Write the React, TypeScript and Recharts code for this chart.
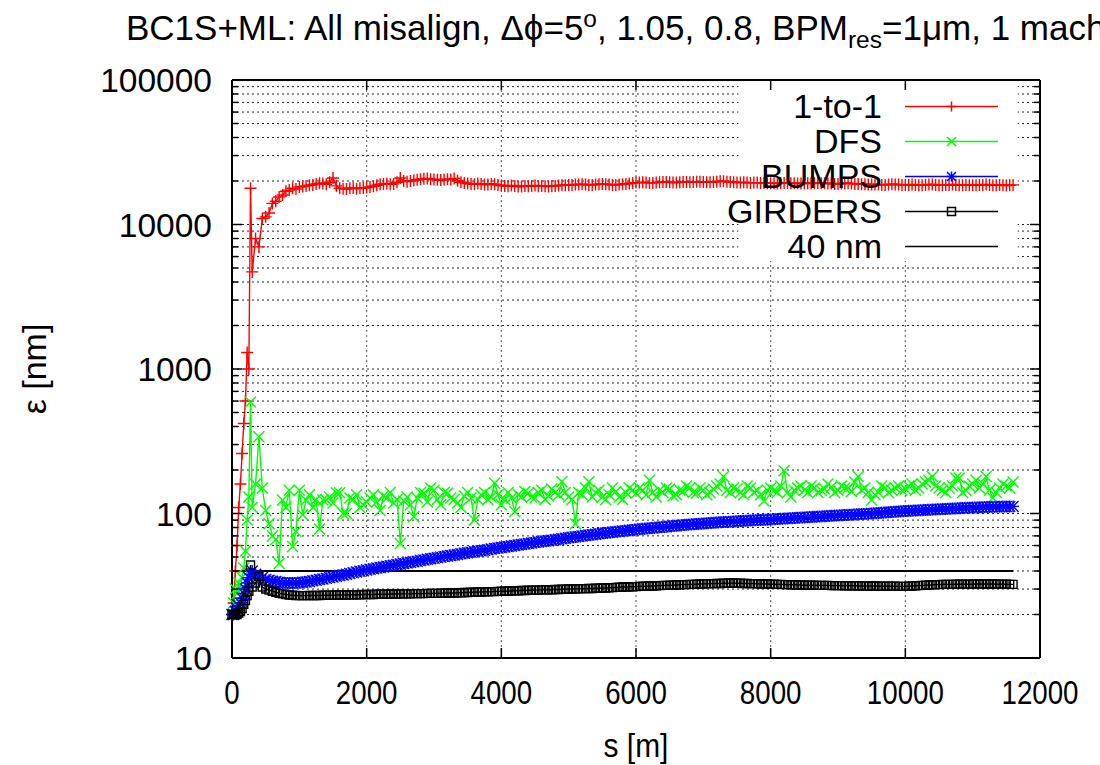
import React from 'react'
import { LineChart, Line, XAxis, YAxis, CartesianGrid, ReferenceArea, Legend } from 'recharts'

// beam position along the linac [m]
const sPos = [
  0, 25, 50, 75, 100, 125, 150, 175, 200, 225, 250, 275, 300, 350, 400, 450, 500, 550, 600, 650, 700, 750, 800, 850, 900, 950, 1000,
  1050, 1100, 1150, 1200, 1250, 1300, 1350, 1400, 1450, 1500, 1550, 1600, 1650, 1700, 1750, 1800, 1850, 1900, 1950, 2000,
  2050, 2100, 2150, 2200, 2250, 2300, 2350, 2400, 2450, 2500, 2550, 2600, 2650, 2700, 2750, 2800, 2850, 2900, 2950, 3000,
  3050, 3100, 3150, 3200, 3250, 3300, 3350, 3400, 3450, 3500, 3550, 3600, 3650, 3700, 3750, 3800, 3850, 3900, 3950, 4000,
  4050, 4100, 4150, 4200, 4250, 4300, 4350, 4400, 4450, 4500, 4550, 4600, 4650, 4700, 4750, 4800, 4850, 4900, 4950, 5000,
  5050, 5100, 5150, 5200, 5250, 5300, 5350, 5400, 5450, 5500, 5550, 5600, 5650, 5700, 5750, 5800, 5850, 5900, 5950, 6000,
  6050, 6100, 6150, 6200, 6250, 6300, 6350, 6400, 6450, 6500, 6550, 6600, 6650, 6700, 6750, 6800, 6850, 6900, 6950, 7000,
  7050, 7100, 7150, 7200, 7250, 7300, 7350, 7400, 7450, 7500, 7550, 7600, 7650, 7700, 7750, 7800, 7850, 7900, 7950, 8000,
  8050, 8100, 8150, 8200, 8250, 8300, 8350, 8400, 8450, 8500, 8550, 8600, 8650, 8700, 8750, 8800, 8850, 8900, 8950, 9000,
  9050, 9100, 9150, 9200, 9250, 9300, 9350, 9400, 9450, 9500, 9550, 9600, 9650, 9700, 9750, 9800, 9850, 9900, 9950, 10000,
  10050, 10100, 10150, 10200, 10250, 10300, 10350, 10400, 10450, 10500, 10550, 10600, 10650, 10700, 10750, 10800, 10850, 10900, 10950, 11000,
  11050, 11100, 11150, 11200, 11250, 11300, 11350, 11400, 11450, 11500, 11550, 11600,
]

// emittance [nm]
const oneToOne = [
  20, 24, 40, 60, 110, 160, 260, 420, 600, 1300, 1000, 17800, 4700, 8000, 7000, 11000, 11300, 12000, 14000, 14500, 15500, 16000, 17000, 17300, 17800, 17600, 18200,
  18300, 18500, 18700, 18800, 19100, 19300, 19200, 19000, 19600, 21000, 18500, 17800, 17700, 17600, 17800, 17900, 17700, 17800, 17900, 18000,
  18200, 18400, 18700, 19000, 19100, 19200, 19000, 19100, 19600, 21000, 20000, 19800, 20000, 20200, 20400, 20600, 20700, 20800, 20600, 20500,
  20400, 20300, 20500, 20600, 20500, 20800, 20100, 19600, 19400, 19200, 19100, 19000, 19200, 19100, 18900, 18900, 19100, 19000, 18800, 18600,
  18500, 18400, 18600, 18500, 18300, 18300, 18500, 18400, 18500, 18600, 18400, 18500, 18400, 18300, 18500, 18500, 18600, 18700, 18700, 18800,
  18800, 18900, 18900, 19000, 18900, 18800, 18800, 18900, 19000, 19100, 19000, 18900, 18800, 18800, 18900, 19000, 19100, 19200, 19400, 19500,
  19500, 19600, 19500, 19400, 19400, 19500, 19600, 19700, 19700, 19600, 19500, 19500, 19600, 19700, 19700, 19600, 19700, 19800, 19800, 19700,
  19600, 19600, 19700, 19800, 19900, 19900, 19800, 19700, 19600, 19500, 19500, 19600, 19500, 19400, 19500, 19500, 19400, 19400, 19300, 19300,
  19300, 19200, 19300, 19400, 19400, 19300, 19300, 19200, 19200, 19300, 19300, 19200, 19300, 19400, 19300, 19300, 19200, 19200, 19100, 19100,
  19200, 19300, 19300, 19200, 19100, 19100, 19000, 19000, 18900, 18900, 18900, 18900, 18800, 18800, 18900, 19000, 18900, 18900, 18800, 18800,
  18800, 18900, 18800, 18700, 18700, 18800, 18900, 18900, 18800, 18700, 18700, 18800, 18800, 18900, 18800, 18700, 18700, 18800, 18700, 18700,
  18700, 18800, 18800, 18900, 18800, 18700, 18700, 18800, 18700, 18600, 18700, 18800,
]

const dfs = [
  20, 24, 30, 28, 33, 30, 36, 42, 55, 90, 130, 590, 110, 160, 340, 150, 105, 85, 70, 66, 45, 124, 110, 145, 59, 75, 145,
  98, 124, 135, 110, 125, 78, 124, 124, 130, 118, 139, 139, 100, 100, 128, 125, 135, 110, 115, 120,
  128, 135, 120, 105, 132, 128, 140, 118, 125, 62, 122, 130, 115, 95, 128, 140, 138, 120, 150, 145,
  125, 115, 140, 138, 128, 125, 118, 110, 132, 140, 128, 90, 125, 135, 140, 125, 130, 162, 135, 115,
  125, 140, 128, 103, 135, 130, 142, 138, 130, 128, 140, 145, 125, 132, 148, 140, 135, 166, 140, 130,
  125, 85, 140, 135, 150, 166, 130, 140, 145, 130, 125, 135, 150, 142, 130, 125, 140, 150, 145, 138,
  150, 145, 135, 170, 140, 130, 145, 140, 150, 148, 132, 135, 145, 142, 155, 150, 140, 138, 150, 145,
  135, 140, 148, 155, 160, 180, 145, 140, 150, 148, 140, 135, 155, 150, 140, 145, 135, 122, 145, 150,
  145, 140, 155, 198, 140, 130, 145, 150, 155, 145, 140, 155, 150, 140, 145, 148, 160, 152, 140, 145,
  155, 150, 150, 142, 165, 180, 145, 150, 140, 124, 135, 140, 155, 150, 140, 145, 150, 155, 145, 148,
  155, 160, 145, 150, 160, 165, 170, 180, 155, 150, 145, 140, 150, 155, 176, 176, 140, 145, 155, 160,
  170, 150, 160, 180, 145, 128, 140, 150, 160, 155, 150, 165,
]

const bumps = [
  20, 20, 21, 22, 23, 24, 26, 28, 30, 33, 36, 38, 40, 38, 37, 36, 35, 34.5, 34, 33.8, 33.5, 33.2, 33, 33, 33, 33.1, 33.2,
  33.4, 33.6, 33.9, 34.2, 34.5, 34.9, 35.2, 35.6, 36.0, 36.4, 36.8, 37.2, 37.6, 38.0, 38.4, 38.9, 39.3, 39.8, 40.2, 40.7,
  41.1, 41.5, 41.9, 42.3, 42.7, 43.1, 43.5, 43.9, 44.3, 44.7, 45.1, 45.5, 46.0, 46.4, 46.8, 47.3, 47.7, 48.2, 48.6, 49.0,
  49.5, 49.9, 50.3, 50.8, 51.2, 51.7, 52.1, 52.6, 53.0, 53.5, 53.9, 54.4, 54.8, 55.3, 55.7, 56.2, 56.7, 57.2, 57.7, 58.2,
  58.6, 59.1, 59.5, 60.0, 60.5, 61.0, 61.5, 62.0, 62.5, 63.0, 63.4, 63.9, 64.4, 64.9, 65.4, 65.9, 66.4, 66.9, 67.4, 67.9,
  68.4, 68.9, 69.4, 69.9, 70.4, 70.9, 71.4, 71.9, 72.4, 72.9, 73.3, 73.8, 74.2, 74.7, 75.1, 75.6, 76.0, 76.5, 76.9, 77.4,
  77.8, 78.3, 78.7, 79.1, 79.5, 79.9, 80.3, 80.7, 81.1, 81.5, 81.9, 82.3, 82.7, 83.1, 83.5, 83.9, 84.3, 84.7, 85.0, 85.4,
  85.7, 86.0, 86.3, 86.6, 86.9, 87.2, 87.5, 87.8, 88.1, 88.4, 88.7, 89.0, 89.2, 89.5, 89.7, 90.0, 90.2, 90.5, 90.7, 91.0,
  91.3, 91.6, 91.9, 92.2, 92.5, 92.8, 93.1, 93.4, 93.7, 94.0, 94.3, 94.6, 94.9, 95.2, 95.5, 95.8, 96.1, 96.4, 96.7, 97.0,
  97.3, 97.6, 97.9, 98.2, 98.5, 98.8, 99.1, 99.4, 99.7, 100.0, 100.4, 100.8, 101.2, 101.6, 102.0, 102.4, 102.8, 103.2, 103.6, 104.0,
  104.3, 104.6, 104.9, 105.2, 105.5, 105.8, 106.1, 106.4, 106.7, 107.0, 107.3, 107.6, 107.9, 108.2, 108.5, 108.8, 109.1, 109.4, 109.7, 110.0,
  110.2, 110.4, 110.6, 110.8, 111.0, 111.2, 111.3, 111.5, 111.6, 111.8, 111.9, 112.0,
]

const girders = [
  20, 20, 20, 20, 20.5, 21, 22, 23.5, 25, 27, 29, 44, 31, 33, 36.6, 31, 30, 29.5, 29, 28.5, 28, 27.8, 27.5, 27.3, 27.2, 27.1, 27,
  27.0, 27.0, 27.1, 27.1, 27.1, 27.1, 27.2, 27.2, 27.2, 27.2, 27.3, 27.3, 27.3, 27.3, 27.4, 27.4, 27.4, 27.4, 27.5, 27.5,
  27.5, 27.5, 27.6, 27.6, 27.6, 27.6, 27.7, 27.7, 27.7, 27.8, 27.8, 27.8, 27.8, 27.9, 27.9, 27.9, 27.9, 28.0, 28.0, 28.0,
  28.0, 28.1, 28.1, 28.2, 28.2, 28.2, 28.3, 28.3, 28.4, 28.4, 28.5, 28.5, 28.6, 28.6, 28.7, 28.7, 28.8, 28.8, 28.9, 29.0,
  29.0, 29.1, 29.1, 29.2, 29.2, 29.3, 29.3, 29.4, 29.4, 29.5, 29.5, 29.6, 29.6, 29.7, 29.7, 29.8, 29.8, 29.9, 29.9, 30.0,
  30.0, 30.1, 30.1, 30.2, 30.2, 30.3, 30.3, 30.4, 30.4, 30.5, 30.5, 30.6, 30.7, 30.8, 30.9, 31.0, 31.0, 31.1, 31.1, 31.2,
  31.3, 31.4, 31.4, 31.5, 31.5, 31.6, 31.7, 31.8, 31.8, 31.9, 31.9, 32.0, 32.1, 32.2, 32.2, 32.3, 32.3, 32.4, 32.5, 32.6,
  32.6, 32.7, 32.7, 32.8, 32.8, 32.9, 32.9, 33.0, 33.0, 32.9, 32.9, 32.8, 32.8, 32.7, 32.7, 32.6, 32.6, 32.5, 32.5, 32.4,
  32.4, 32.3, 32.3, 32.2, 32.2, 32.1, 32.1, 32.0, 32.0, 31.9, 31.9, 31.9, 31.9, 31.8, 31.8, 31.8, 31.8, 31.7, 31.7, 31.7,
  31.7, 31.6, 31.6, 31.6, 31.6, 31.5, 31.5, 31.5, 31.5, 31.5, 31.5, 31.4, 31.4, 31.4, 31.4, 31.4, 31.4, 31.3, 31.3, 31.3,
  31.4, 31.5, 31.6, 31.7, 31.8, 31.9, 32.0, 32.1, 32.2, 32.2, 32.3, 32.3, 32.3, 32.3, 32.4, 32.4, 32.4, 32.4, 32.4, 32.4,
  32.5, 32.5, 32.5, 32.5, 32.5, 32.5, 32.4, 32.4, 32.4, 32.4, 32.3, 32.3,
]

// 40 nm reference level
const limitS = [0, 11600]
const limitNm = [40, 40]

const xTicks = [0, 2000, 4000, 6000, 8000, 10000, 12000]
const yTicks = [
  10, 20, 30, 40, 50, 60, 70, 80, 90,
  100, 200, 300, 400, 500, 600, 700, 800, 900,
  1000, 2000, 3000, 4000, 5000, 6000, 7000, 8000, 9000,
  10000, 20000, 30000, 40000, 50000, 60000, 70000, 80000, 90000,
  100000,
]
const yLabels = [10, 100, 1000, 10000, 100000]

const rows = sPos.map((s, i) => ({ s, oneToOne: oneToOne[i], dfs: dfs[i], bumps: bumps[i], girders: girders[i] }))
const limitRows = limitS.map((s, i) => ({ s, nm40: limitNm[i] }))

const FONT = '"Liberation Sans", Arial, Helvetica, sans-serif'

type Mark = 'plus' | 'cross' | 'star' | 'square' | 'none'

const series: { key: string; name: string; color: string; mark: Mark }[] = [
  { key: 'oneToOne', name: '1-to-1', color: '#ff0000', mark: 'plus' },
  { key: 'dfs', name: 'DFS', color: '#00ff00', mark: 'cross' },
  { key: 'bumps', name: 'BUMPS', color: '#0000ff', mark: 'star' },
  { key: 'girders', name: 'GIRDERS', color: '#000000', mark: 'square' },
]

function markPath(mark: Mark, cx: number, cy: number, big = true) {
  const h = big ? 6 : 5
  const c = big ? 5.5 : 4.5
  const plus = `M${cx - h},${cy}H${cx + h}M${cx},${cy - h}V${cy + h}`
  const cross = `M${cx - c},${cy - c}L${cx + c},${cy + c}M${cx - c},${cy + c}L${cx + c},${cy - c}`
  if (mark === 'plus') return plus
  if (mark === 'cross') return cross
  if (mark === 'star') return plus + cross
  if (mark === 'square') return `M${cx - 4},${cy - 4}h8v8h-8z`
  return ''
}

const dotFor = (mark: Mark, color: string) => (p: any) => {
  const { cx, cy, index } = p
  if (cx == null || cy == null) return <g key={`d${index}`} />
  return <path key={`d${index}`} d={markPath(mark, cx, cy)} stroke={color} strokeWidth={1.4} fill="none" />
}

function BottomTick({ x, y, payload }: any) {
  return (
    <g>
      <line x1={x} y1={y} x2={x} y2={y - 10} stroke="#000" strokeWidth={1.5} />
      <text transform={`translate(${x},${y + 46}) scale(0.84,1)`} textAnchor="middle" fontSize={33} fontFamily={FONT} fill="#000">
        {payload.value}
      </text>
    </g>
  )
}

function TopTick({ x, y }: any) {
  return <line x1={x} y1={y} x2={x} y2={y + 10} stroke="#000" strokeWidth={1.5} />
}

function LeftTick({ x, y, payload }: any) {
  const major = yLabels.includes(payload.value)
  return (
    <g>
      <line x1={x} y1={y} x2={x + (major ? 10 : 6)} y2={y} stroke="#000" strokeWidth={1.5} />
      {major && (
        <text x={x - 20} y={y} dy="0.36em" textAnchor="end" fontSize={33.5} fontFamily={FONT} fill="#000">
          {payload.value}
        </text>
      )}
    </g>
  )
}

function RightTick({ x, y, payload }: any) {
  const major = yLabels.includes(payload.value)
  return <line x1={x} y1={y} x2={x - (major ? 10 : 6)} y2={y} stroke="#000" strokeWidth={1.5} />
}

function KeyBox() {
  return (
    <div style={{ fontFamily: FONT, fontSize: 34, color: '#000' }}>
      {[...series, { key: 'nm40', name: '40 nm', color: '#000000', mark: 'none' as Mark }].map((s) => (
        <div key={s.key} style={{ height: 35, display: 'flex', alignItems: 'center' }}>
          <span style={{ width: 182, textAlign: 'right', lineHeight: '35px', whiteSpace: 'nowrap' }}>{s.name}</span>
          <svg width={116} height={35} style={{ display: 'block' }}>
            <line x1={23} x2={116} y1={17.5} y2={17.5} stroke={s.color} strokeWidth={1.5} />
            <path d={markPath(s.mark, 69.5, 17.5, false)} stroke={s.color} strokeWidth={1.5} fill="none" />
          </svg>
        </div>
      ))}
    </div>
  )
}

export default function App() {
  return (
    <div style={{ position: 'relative', width: 1100, height: 765, overflow: 'hidden', background: '#fff' }}>
      <style>{'body{margin:0}'}</style>
      <div
        style={{
          position: 'absolute', left: 126, top: 2, zIndex: 2, whiteSpace: 'nowrap',
          fontFamily: FONT, fontSize: 35, lineHeight: '52px', color: '#000',
        }}
      >
        BC1S+ML: All misalign, Δϕ=5<sup style={{ fontSize: '0.7em', lineHeight: 0 }}>o</sup>, 1.05, 0.8, BPM
        <sub style={{ fontSize: '0.7em', lineHeight: 0 }}>res</sub>=1μm, 1 machine
      </div>
      <LineChart width={1100} height={765} data={rows} margin={{ top: 79, right: 59, bottom: 0, left: 0 }}>
        <CartesianGrid horizontal vertical={false} stroke="#222" strokeDasharray="2 3" />
        <CartesianGrid horizontal={false} vertical stroke="#555" strokeDasharray="2 3" />
        <ReferenceArea x1={7520} x2={11670} y1={5600} y2={100000} fill="#fff" fillOpacity={1} stroke="none" />
        <XAxis
          dataKey="s" type="number" domain={[0, 12000]} ticks={xTicks} interval={0}
          height={107} tickSize={0} tickMargin={0} tickLine={false}
          axisLine={{ stroke: '#000', strokeWidth: 2 }} tick={(p: any) => <BottomTick {...p} />}
          label={{
            content: (p: any) => {
              const vb = p.viewBox || { x: 232, y: 658, width: 808 }
              return (
                <text transform={`translate(${vb.x + vb.width / 2},${vb.y + 99}) scale(0.88,1)`} textAnchor="middle" fontSize={34} fontFamily={FONT} fill="#000">
                  s [m]
                </text>
              )
            },
          }}
        />
        <XAxis
          xAxisId="top" orientation="top" dataKey="s" type="number" domain={[0, 12000]} ticks={xTicks} interval={0}
          height={1} tickSize={0} tickMargin={0} tickLine={false}
          axisLine={{ stroke: '#000', strokeWidth: 2 }} tick={(p: any) => <TopTick {...p} />}
        />
        <YAxis
          type="number" scale="log" domain={[10, 100000]} ticks={yTicks} interval={0}
          width={232} tickSize={0} tickMargin={0} tickLine={false}
          axisLine={{ stroke: '#000', strokeWidth: 2 }} tick={(p: any) => <LeftTick {...p} />}
          label={{
            content: () => (
              <text transform="translate(34,369) rotate(-90)" dy="0.36em" textAnchor="middle" fontSize={34} fontFamily={FONT} fill="#000">
                ε [nm]
              </text>
            ),
          }}
        />
        <YAxis
          yAxisId="right" orientation="right" type="number" scale="log" domain={[10, 100000]} ticks={yTicks} interval={0}
          width={1} tickSize={0} tickMargin={0} tickLine={false}
          axisLine={{ stroke: '#000', strokeWidth: 2 }} tick={(p: any) => <RightTick {...p} />}
        />
        {series.map((s) => (
          <Line
            key={s.key} dataKey={s.key} name={s.name} stroke={s.color} strokeWidth={1.4}
            dot={dotFor(s.mark, s.color)} activeDot={false} isAnimationActive={false} type="linear"
          />
        ))}
        <Line
          data={limitRows} dataKey="nm40" name="40 nm" xAxisId="top" yAxisId="right" stroke="#000" strokeWidth={2}
          dot={false} activeDot={false} isAnimationActive={false} type="linear"
        />
        <Legend
          layout="vertical" align="center" verticalAlign="middle"
          wrapperStyle={{ left: 700, top: 89, width: 320, height: 175 }}
          content={() => <KeyBox />}
        />
      </LineChart>
    </div>
  )
}
